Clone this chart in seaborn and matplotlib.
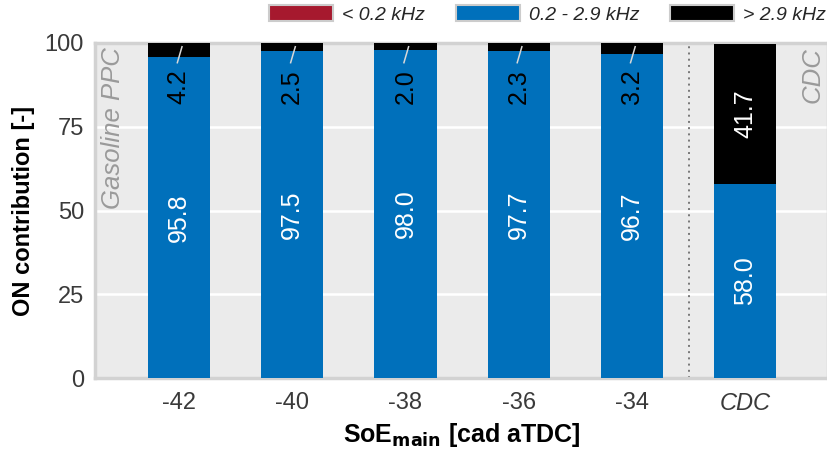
import matplotlib
matplotlib.use("Agg")
import matplotlib.pyplot as plt
from matplotlib.patches import Patch
import seaborn as sns
import pandas as pd
import numpy as np

# Data: ON contribution per frequency band
categories = ["-42", "-40", "-38", "-36", "-34", "CDC"]
low_band = [0.0, 0.0, 0.0, 0.0, 0.0, 0.0]          # < 0.2 kHz
mid_band = [95.8, 97.5, 98.0, 97.7, 96.7, 58.0]    # 0.2 - 2.9 kHz
high_band = [4.2, 2.5, 2.0, 2.3, 3.2, 41.7]        # > 2.9 kHz
band_labels = ["< 0.2 kHz", "0.2 - 2.9 kHz", "> 2.9 kHz"]
band_colors = ["#a6192e", "#0070bb", "#000000"]
y_ticks = [0, 25, 50, 75, 100]

sns.set_theme(style="white")
plt.rcParams["font.family"] = ["Liberation Sans", "DejaVu Sans"]

df = pd.DataFrame({
    "soe": categories,
    "low": low_band,
    "mid": mid_band,
    "high": high_band,
})
df["cum_mid"] = df["low"] + df["mid"]
df["cum_high"] = df["cum_mid"] + df["high"]

fig = plt.figure(figsize=(8.28, 4.55), dpi=100)
ax = fig.add_axes([0.1147, 0.169, 0.8853, 0.7365])
ax.set_facecolor("#ebebeb")

bar_w = 0.55
# stacked bars: draw cumulative totals from the top layer down
for col, color in [("cum_high", band_colors[2]), ("cum_mid", band_colors[1]),
                   ("low", band_colors[0])]:
    sns.barplot(data=df, x="soe", y=col, order=categories, color=color,
                saturation=1, width=bar_w, edgecolor="none", linewidth=0,
                ax=ax, zorder=3)

ax.set_xlim(-0.74, 5.73)
ax.set_ylim(0, 100)
ax.set_yticks(y_ticks)
ax.yaxis.grid(True, color="white", linewidth=1.8, zorder=1)
ax.set_axisbelow(True)

for side in ["left", "top", "bottom", "right"]:
    ax.spines[side].set_color("#d2d2d2")
    ax.spines[side].set_linewidth(2.5)

ax.tick_params(axis="both", length=0, labelsize=17, labelcolor="#3a3a3a")
ax.tick_params(axis="y", pad=8)
ax.tick_params(axis="x", pad=10)
ax.get_xticklabels()[-1].set_style("italic")

ax.set_xlabel("SoE$_\\mathbf{main}$ [cad aTDC]", fontsize=18, fontweight="bold",
              color="black", labelpad=4)
ax.set_ylabel("ON contribution [-]", fontsize=17, fontweight="bold",
              color="black", labelpad=7)

# separator between the PPC sweep and the CDC reference
ax.axvline(4.5, color="#777777", linestyle=(0, (1, 2.2)), linewidth=1.4, zorder=2)

# value labels
for i, (lo, mid, hi) in enumerate(zip(low_band, mid_band, high_band)):
    ax.text(i, lo + mid / 2, f"{mid:.1f}", rotation=90, ha="center", va="center",
            color="white", fontsize=18, zorder=5)
    if hi >= 10:
        ax.text(i, lo + mid + hi / 2, f"{hi:.1f}", rotation=90, ha="center",
                va="center", color="white", fontsize=18, zorder=5)
    else:
        ax.plot([i + 0.03, i - 0.015], [99.1, 93.9], color="#d8d8d8",
                linewidth=1.1, zorder=5, solid_capstyle="butt")
        ax.text(i, 92.2, f"{hi:.1f}", rotation=90, ha="center", va="top",
                color="black", fontsize=18, zorder=5)

ax.text(-0.58, 98.8, "Gasoline PPC", rotation=90, ha="center", va="top",
        style="italic", color="#9a9a9a", fontsize=18.5)
ax.text(5.59, 98.8, "CDC", rotation=90, ha="center", va="top",
        style="italic", color="#9a9a9a", fontsize=18.5)

handles = [Patch(facecolor=c, edgecolor="#cccccc", linewidth=1.5) for c in band_colors]
leg = fig.legend(handles, band_labels, loc="center right", bbox_to_anchor=(1.0, 0.968),
                 ncol=3, frameon=False, fontsize=14, handlelength=3.3, handleheight=0.85,
                 handletextpad=0.45, columnspacing=1.6, borderaxespad=0, borderpad=0.1)
for t in leg.get_texts():
    t.set_style("italic")

fig.savefig("out.png", dpi=100)
